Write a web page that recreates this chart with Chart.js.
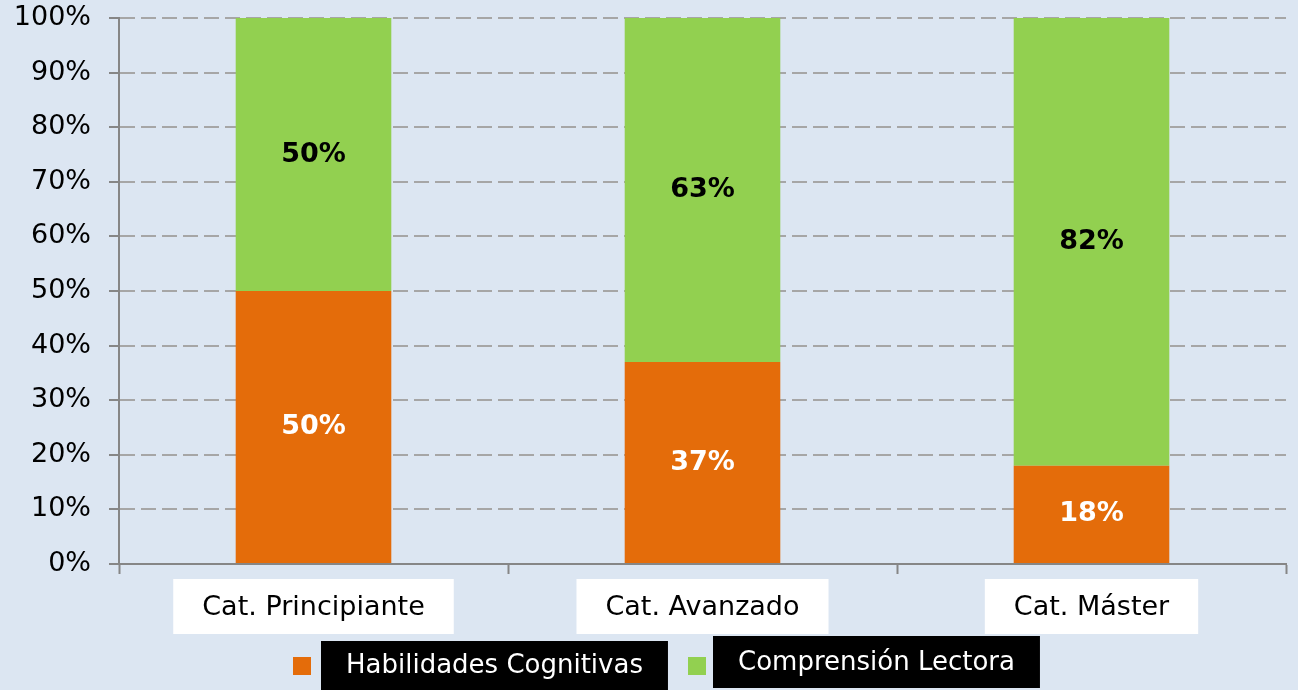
<!DOCTYPE html>
<html>
<head>
<meta charset="utf-8">
<script src="https://cdn.jsdelivr.net/npm/chart.js@4/dist/chart.umd.min.js"></script>
<style>
  html, body { margin: 0; padding: 0; background: #dce6f2; }
  #wrap { width: 1298px; height: 690px; }
</style>
</head>
<body>
<div id="wrap"><canvas id="chart" width="1298" height="690"></canvas></div>
<script>
'use strict'

const categories = ['Cat. Principiante', 'Cat. Avanzado', 'Cat. Máster']
const seriesNames = ['Habilidades Cognitivas', 'Comprensión Lectora']
const habilidades = [50, 37, 18]
const comprension = [50, 63, 82]
const yTicks = [0, 10, 20, 30, 40, 50, 60, 70, 80, 90, 100]

const FONT = '"DejaVu Sans", "Noto Sans", sans-serif'

const ctx = document.getElementById('chart')

// fondo del lienzo
const background = {
  id: 'background',
  beforeDraw(chart) {
    const c = chart.ctx
    c.save()
    c.fillStyle = '#dce6f2'
    c.fillRect(0, 0, chart.width, chart.height)
    c.restore()
  }
}

// etiquetas de valor dentro de cada segmento
const valueLabels = {
  id: 'valueLabels',
  afterDatasetsDraw(chart) {
    const c = chart.ctx
    c.save()
    c.font = 'bold 27px ' + FONT
    c.textAlign = 'center'
    c.textBaseline = 'middle'
    chart.data.datasets.forEach((ds, i) => {
      const meta = chart.getDatasetMeta(i)
      meta.data.forEach((bar, j) => {
        const y = (bar.y + bar.base) / 2
        c.fillStyle = ds.labelColor
        c.fillText(ds.data[j] + '%', bar.x, y)
      })
    })
    c.restore()
  }
}

// leyenda con cajas negras detrás del texto
const boxLegend = {
  id: 'boxLegend',
  afterDraw(chart) {
    const c = chart.ctx
    c.save()
    c.font = '26px ' + FONT
    c.textBaseline = 'middle'
    c.textAlign = 'center'
    const boxes = [
      { sq: 293, x: 321, y: 641, h: 49 },
      { sq: 688, x: 713, y: 636, h: 52 }
    ]
    chart.data.datasets.forEach((ds, i) => {
      const b = boxes[i]
      const w = c.measureText(ds.label).width + 50
      c.fillStyle = ds.backgroundColor
      c.fillRect(b.sq, 657, 18, 18)
      c.fillStyle = '#000'
      c.fillRect(b.x, b.y, w, b.h)
      c.fillStyle = '#fff'
      c.fillText(ds.label, b.x + w / 2, b.y + b.h / 2 + 1)
    })
    c.restore()
  }
}

const chart = new Chart(ctx, {
  type: 'bar',
  data: {
    labels: categories,
    datasets: [{
      label: seriesNames[0],
      data: habilidades,
      backgroundColor: '#e46c0a',
      labelColor: '#ffffff',
      categoryPercentage: 0.8,
      barPercentage: 0.5
    }, {
      label: seriesNames[1],
      data: comprension,
      backgroundColor: '#92d050',
      labelColor: '#000000',
      categoryPercentage: 0.8,
      barPercentage: 0.5
    }]
  },
  options: {
    responsive: false,
    animation: false,
    layout: { padding: { top: 18, right: 12, bottom: 56, left: 0 } },
    plugins: {
      legend: { display: false },
      tooltip: { enabled: false }
    },
    scales: {
      x: {
        stacked: true,
        afterFit(scale) { scale.height = 70 },
        grid: {
          drawOnChartArea: false,
          drawTicks: true,
          tickLength: 10,
          tickWidth: 2,
          color: '#868686'
        },
        border: { color: '#868686', width: 2 },
        ticks: {
          color: '#000',
          font: { family: FONT, size: 27 },
          padding: 18,
          showLabelBackdrop: true,
          backdropColor: '#ffffff',
          backdropPadding: { left: 29, right: 29, top: 13, bottom: 13 }
        }
      },
      y: {
        stacked: true,
        min: 0,
        max: 100,
        afterFit(scale) {
          scale.width = 119
          scale.paddingTop = 0
          scale.paddingBottom = 0
        },
        afterBuildTicks(scale) {
          scale.ticks = yTicks.map(v => ({ value: v }))
        },
        grid: {
          color: '#a6a6a6',
          lineWidth: 2,
          tickLength: 10,
          tickColor: '#868686'
        },
        border: { color: '#868686', width: 2, dash: [15, 6] },
        ticks: {
          color: '#000',
          font: { family: FONT, size: 27 },
          padding: 18,
          callback: v => v + '%'
        }
      }
    }
  },
  plugins: [background, valueLabels, boxLegend]
})
</script>
</body>
</html>
